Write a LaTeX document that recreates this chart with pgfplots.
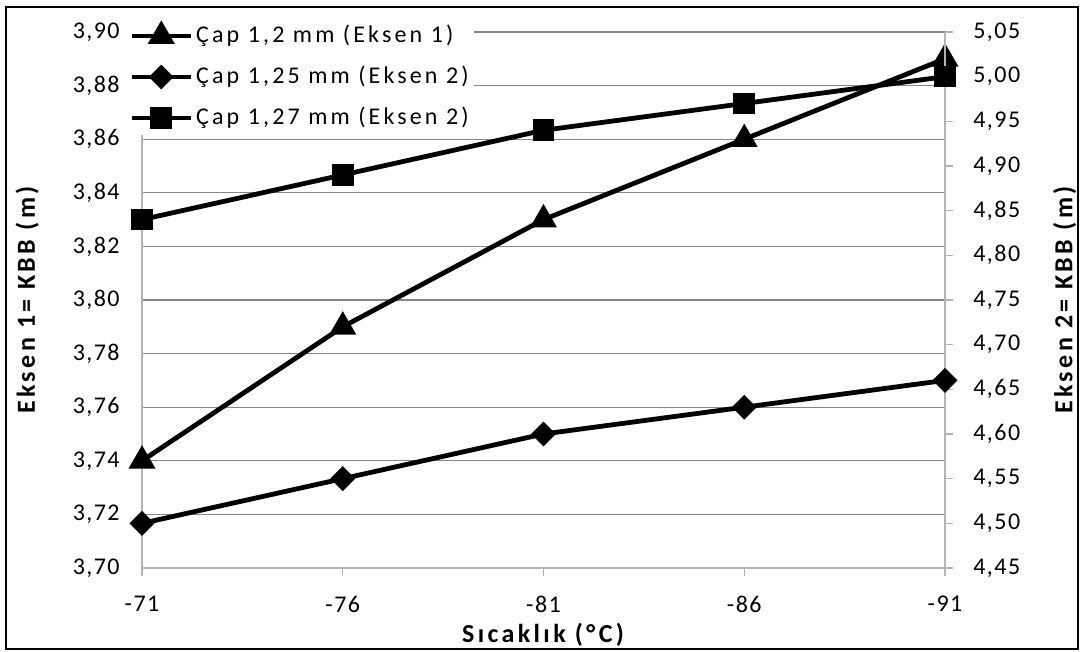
\documentclass[border=0pt]{standalone}
\usepackage{pgfplots}
\pgfplotsset{compat=1.18}
\usepackage{fontspec}
\setmainfont{Carlito}[LetterSpace=6]
\newfontfamily\legfont{Carlito}[LetterSpace=13]
\newfontfamily\labfont{Carlito}[LetterSpace=13]
\definecolor{gridc}{RGB}{134,134,134}
\definecolor{axc}{RGB}{180,180,180}
\pgfplotstableread{
x s1 s2 s3
0 3.74 4.50 4.84
1 3.79 4.55 4.89
2 3.83 4.60 4.94
3 3.86 4.63 4.97
4 3.89 4.66 5.00
}\datatab
\begin{document}
\fontsize{12}{14}\selectfont
\begin{tikzpicture}
\useasboundingbox (0,0) rectangle (541pt,326pt);
\draw[line width=1.3pt] (3pt,1.5pt) rectangle (539pt,322.5pt);
\pgfplotsset{
  every axis/.append style={
    at={(71pt,42pt)}, anchor=south west, scale only axis,
    width=401.5pt, height=268pt,
    xmin=0, xmax=4,
    tick label style={font=\fontsize{12}{14}\selectfont},
    label style={font=\labfont\fontsize{13}{15}\selectfont\bfseries},
  },
  sline/.style={black, line width=2.4pt},
  legend image code/.code={\draw[mark repeat=2,mark phase=2,#1] plot coordinates {(0pt,0pt) (14.75pt,0pt) (29.5pt,0pt)};},
  numfmt/.style={/pgf/number format/fixed, /pgf/number format/fixed zerofill, /pgf/number format/precision=2, /pgf/number format/use comma, /pgf/number format/assume math mode=true},
}
\begin{axis}[
  axis x line*=bottom, axis y line*=left,
  axis line style={draw=axc, line width=0.6pt},
  ymin=3.70, ymax=3.90, ytick={3.70,3.72,...,3.91},
  yticklabel style={numfmt, xshift=-7pt},
  ymajorgrids, major grid style={draw=gridc, line width=0.6pt},
  ytick style={draw=none},
  xtick=data, xticklabels={-71,-76,-81,-86,-91},
  xtick align=outside, xtick pos=bottom, xtick style={draw=axc, line width=0.6pt},
  major tick length=4pt,
  xticklabel style={yshift=-6pt},
  xlabel={Sıcaklık (°C)},
  xlabel style={at={(axis description cs:0.4994,-0.125)}, anchor=center},
  ylabel={Eksen 1= KBB (m)},
  ylabel style={at={(axis description cs:-0.143,0.5)}, anchor=center},
]
\addplot[sline, mark=triangle*, mark size=5.4pt] table[x=x, y=s1] {\datatab};
\end{axis}
\begin{axis}[
  axis x line=none, axis y line*=right,
  axis line style={draw=axc, line width=0.6pt},
  ymin=4.45, ymax=5.05, ytick={4.45,4.50,...,5.06},
  yticklabel style={numfmt, xshift=6pt},
  ytick align=outside, ytick pos=right, ytick style={draw=axc, line width=0.6pt},
  major tick length=4pt,
  ylabel={Eksen 2= KBB (m)},
  ylabel style={at={(axis description cs:1.149,0.5)}, anchor=center},
  legend style={at={(axis description cs:-0.0187,1.025)}, anchor=north west,
    draw=none, fill=white, inner sep=1pt, row sep=5.5pt,
    font=\legfont\fontsize{12}{14}\selectfont,
    nodes={inner sep=1.5pt, text height=9pt, text depth=3pt}},
  legend cell align=left,
]
\addlegendimage{sline, mark=triangle*, mark size=5.4pt}
\addlegendentry{Çap 1,2 mm (Eksen 1)}
\addplot[sline, mark=square*, mark size=3.2pt, mark options={rotate=45}] table[x=x, y=s2] {\datatab};
\addlegendentry{Çap 1,25 mm (Eksen 2)}
\addplot[sline, mark=square*, mark size=4.2pt] table[x=x, y=s3] {\datatab};
\addlegendentry{Çap 1,27 mm (Eksen 2)}
\end{axis}
\end{tikzpicture}
\end{document}
